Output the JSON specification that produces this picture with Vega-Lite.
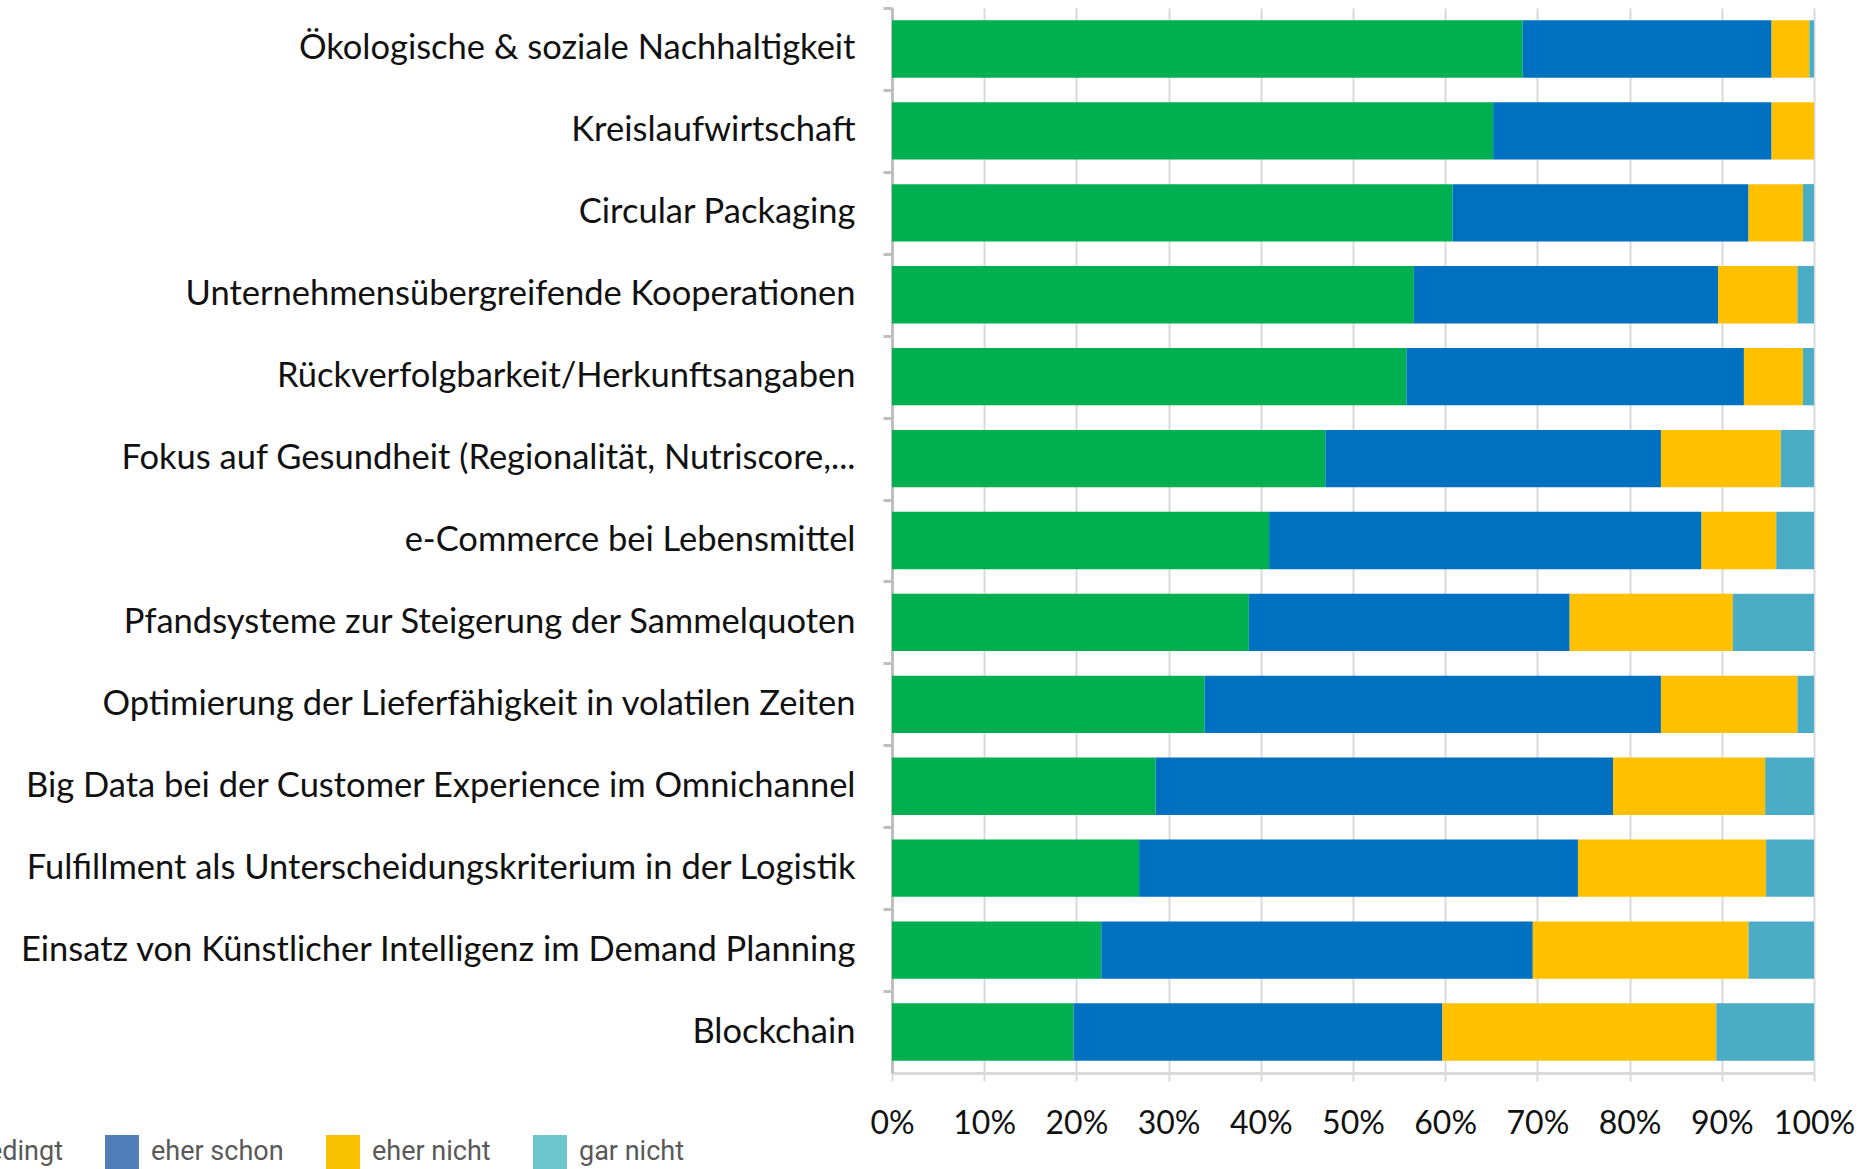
{
  "$schema": "https://vega.github.io/schema/vega-lite/v6.json",
  "autosize": "none",
  "width": 922,
  "height": 1065,
  "padding": {"left": 892, "top": 8, "right": 49, "bottom": 96},
  "background": "white",
  "config": {"view": {"stroke": null}},
  "layer": [
    {
      "data": {"values": [
        {"Thema": "Ökologische & soziale Nachhaltigkeit", "Antwort": "unbedingt", "Rang": 1, "Anteil": 68.4},
        {"Thema": "Ökologische & soziale Nachhaltigkeit", "Antwort": "eher schon", "Rang": 2, "Anteil": 27.0},
        {"Thema": "Ökologische & soziale Nachhaltigkeit", "Antwort": "eher nicht", "Rang": 3, "Anteil": 4.1},
        {"Thema": "Ökologische & soziale Nachhaltigkeit", "Antwort": "gar nicht", "Rang": 4, "Anteil": 0.5},
        {"Thema": "Kreislaufwirtschaft", "Antwort": "unbedingt", "Rang": 1, "Anteil": 65.2},
        {"Thema": "Kreislaufwirtschaft", "Antwort": "eher schon", "Rang": 2, "Anteil": 30.2},
        {"Thema": "Kreislaufwirtschaft", "Antwort": "eher nicht", "Rang": 3, "Anteil": 4.6},
        {"Thema": "Kreislaufwirtschaft", "Antwort": "gar nicht", "Rang": 4, "Anteil": 0},
        {"Thema": "Circular Packaging", "Antwort": "unbedingt", "Rang": 1, "Anteil": 60.8},
        {"Thema": "Circular Packaging", "Antwort": "eher schon", "Rang": 2, "Anteil": 32.1},
        {"Thema": "Circular Packaging", "Antwort": "eher nicht", "Rang": 3, "Anteil": 5.9},
        {"Thema": "Circular Packaging", "Antwort": "gar nicht", "Rang": 4, "Anteil": 1.2},
        {"Thema": "Unternehmensübergreifende Kooperationen", "Antwort": "unbedingt", "Rang": 1, "Anteil": 56.6},
        {"Thema": "Unternehmensübergreifende Kooperationen", "Antwort": "eher schon", "Rang": 2, "Anteil": 33.0},
        {"Thema": "Unternehmensübergreifende Kooperationen", "Antwort": "eher nicht", "Rang": 3, "Anteil": 8.6},
        {"Thema": "Unternehmensübergreifende Kooperationen", "Antwort": "gar nicht", "Rang": 4, "Anteil": 1.8},
        {"Thema": "Rückverfolgbarkeit/Herkunftsangaben", "Antwort": "unbedingt", "Rang": 1, "Anteil": 55.8},
        {"Thema": "Rückverfolgbarkeit/Herkunftsangaben", "Antwort": "eher schon", "Rang": 2, "Anteil": 36.6},
        {"Thema": "Rückverfolgbarkeit/Herkunftsangaben", "Antwort": "eher nicht", "Rang": 3, "Anteil": 6.4},
        {"Thema": "Rückverfolgbarkeit/Herkunftsangaben", "Antwort": "gar nicht", "Rang": 4, "Anteil": 1.2},
        {"Thema": "Fokus auf Gesundheit (Regionalität, Nutriscore,...", "Antwort": "unbedingt", "Rang": 1, "Anteil": 47.0},
        {"Thema": "Fokus auf Gesundheit (Regionalität, Nutriscore,...", "Antwort": "eher schon", "Rang": 2, "Anteil": 36.4},
        {"Thema": "Fokus auf Gesundheit (Regionalität, Nutriscore,...", "Antwort": "eher nicht", "Rang": 3, "Anteil": 13.0},
        {"Thema": "Fokus auf Gesundheit (Regionalität, Nutriscore,...", "Antwort": "gar nicht", "Rang": 4, "Anteil": 3.6},
        {"Thema": "e-Commerce bei Lebensmittel", "Antwort": "unbedingt", "Rang": 1, "Anteil": 40.9},
        {"Thema": "e-Commerce bei Lebensmittel", "Antwort": "eher schon", "Rang": 2, "Anteil": 46.9},
        {"Thema": "e-Commerce bei Lebensmittel", "Antwort": "eher nicht", "Rang": 3, "Anteil": 8.1},
        {"Thema": "e-Commerce bei Lebensmittel", "Antwort": "gar nicht", "Rang": 4, "Anteil": 4.1},
        {"Thema": "Pfandsysteme zur Steigerung der Sammelquoten", "Antwort": "unbedingt", "Rang": 1, "Anteil": 38.7},
        {"Thema": "Pfandsysteme zur Steigerung der Sammelquoten", "Antwort": "eher schon", "Rang": 2, "Anteil": 34.8},
        {"Thema": "Pfandsysteme zur Steigerung der Sammelquoten", "Antwort": "eher nicht", "Rang": 3, "Anteil": 17.7},
        {"Thema": "Pfandsysteme zur Steigerung der Sammelquoten", "Antwort": "gar nicht", "Rang": 4, "Anteil": 8.8},
        {"Thema": "Optimierung der Lieferfähigkeit in volatilen Zeiten", "Antwort": "unbedingt", "Rang": 1, "Anteil": 33.9},
        {"Thema": "Optimierung der Lieferfähigkeit in volatilen Zeiten", "Antwort": "eher schon", "Rang": 2, "Anteil": 49.5},
        {"Thema": "Optimierung der Lieferfähigkeit in volatilen Zeiten", "Antwort": "eher nicht", "Rang": 3, "Anteil": 14.8},
        {"Thema": "Optimierung der Lieferfähigkeit in volatilen Zeiten", "Antwort": "gar nicht", "Rang": 4, "Anteil": 1.8},
        {"Thema": "Big Data bei der Customer Experience im Omnichannel", "Antwort": "unbedingt", "Rang": 1, "Anteil": 28.6},
        {"Thema": "Big Data bei der Customer Experience im Omnichannel", "Antwort": "eher schon", "Rang": 2, "Anteil": 49.6},
        {"Thema": "Big Data bei der Customer Experience im Omnichannel", "Antwort": "eher nicht", "Rang": 3, "Anteil": 16.5},
        {"Thema": "Big Data bei der Customer Experience im Omnichannel", "Antwort": "gar nicht", "Rang": 4, "Anteil": 5.3},
        {"Thema": "Fulfillment als Unterscheidungskriterium in der Logistik", "Antwort": "unbedingt", "Rang": 1, "Anteil": 26.8},
        {"Thema": "Fulfillment als Unterscheidungskriterium in der Logistik", "Antwort": "eher schon", "Rang": 2, "Anteil": 47.6},
        {"Thema": "Fulfillment als Unterscheidungskriterium in der Logistik", "Antwort": "eher nicht", "Rang": 3, "Anteil": 20.4},
        {"Thema": "Fulfillment als Unterscheidungskriterium in der Logistik", "Antwort": "gar nicht", "Rang": 4, "Anteil": 5.2},
        {"Thema": "Einsatz von Künstlicher Intelligenz im Demand Planning", "Antwort": "unbedingt", "Rang": 1, "Anteil": 22.7},
        {"Thema": "Einsatz von Künstlicher Intelligenz im Demand Planning", "Antwort": "eher schon", "Rang": 2, "Anteil": 46.8},
        {"Thema": "Einsatz von Künstlicher Intelligenz im Demand Planning", "Antwort": "eher nicht", "Rang": 3, "Anteil": 23.4},
        {"Thema": "Einsatz von Künstlicher Intelligenz im Demand Planning", "Antwort": "gar nicht", "Rang": 4, "Anteil": 7.1},
        {"Thema": "Blockchain", "Antwort": "unbedingt", "Rang": 1, "Anteil": 19.7},
        {"Thema": "Blockchain", "Antwort": "eher schon", "Rang": 2, "Anteil": 40.0},
        {"Thema": "Blockchain", "Antwort": "eher nicht", "Rang": 3, "Anteil": 29.7},
        {"Thema": "Blockchain", "Antwort": "gar nicht", "Rang": 4, "Anteil": 10.6}
      ]},
      "mark": {"type": "bar"},
      "encoding": {
        "y": {
          "field": "Thema", "type": "nominal", "sort": null, "title": null,
          "scale": {"paddingInner": 0.3, "paddingOuter": 0.15},
          "axis": {
            "bandPosition": 0, "tickOffset": -12.3, "labelOffset": 12.3,
            "tickSize": 9, "tickWidth": 3, "tickColor": "#bfbfbf",
            "domainColor": "#bfbfbf", "domainWidth": 3,
            "labelFont": "Lato", "labelFontSize": 34.5, "labelColor": "#111111",
            "labelLimit": 900, "labelPadding": 28,
            "grid": false
          }
        },
        "x": {
          "field": "Anteil", "type": "quantitative", "stack": "normalize", "title": null,
          "scale": {"domain": [0, 1], "nice": false},
          "axis": {
            "values": [0, 0.1, 0.2, 0.3, 0.4, 0.5, 0.6, 0.7, 0.8, 0.9, 1],
            "format": ".0%", "labelFont": "Lato", "labelFontSize": 32, "labelColor": "#111111",
            "labelPadding": 27, "labelFlush": false,
            "tickSize": 8, "tickWidth": 2, "tickColor": "#d9d9d9",
            "domainColor": "#d9d9d9", "domainWidth": 3,
            "grid": true, "gridColor": "#d9d9d9", "gridWidth": 2
          }
        },
        "order": {"field": "Rang", "type": "quantitative"},
        "fill": {
          "field": "Antwort", "type": "nominal",
          "scale": {"domain": ["gar nicht", "eher nicht", "eher schon", "unbedingt"], "range": ["#4bacc6", "#ffc000", "#0070c0", "#00b050"]},
          "legend": null
        }
      }
    },
    {
      "data": {"values": [
        {"Antwort": "unbedingt"},
        {"Antwort": "eher schon"},
        {"Antwort": "eher nicht"},
        {"Antwort": "gar nicht"}
      ]},
      "mark": {"type": "square", "opacity": 0},
      "encoding": {
        "color": {
          "field": "Antwort", "type": "nominal",
          "scale": {"domain": ["unbedingt", "eher schon", "eher nicht", "gar nicht"], "range": ["#5fa85a", "#4f7eb8", "#f9c000", "#6cc6cb"]},
          "legend": {
            "title": null, "orient": "none", "direction": "horizontal",
            "legendX": -995, "legendY": 1127, "padding": 0,
            "symbolType": "square",
            "symbolSize": 1156, "symbolOpacity": 1, "symbolStrokeWidth": 0,
            "labelFont": "Roboto", "labelFontSize": 27, "labelColor": "#595959",
            "labelOffset": 12, "columnPadding": 42, "labelLimit": 400
          }
        }
      }
    }
  ]
}
